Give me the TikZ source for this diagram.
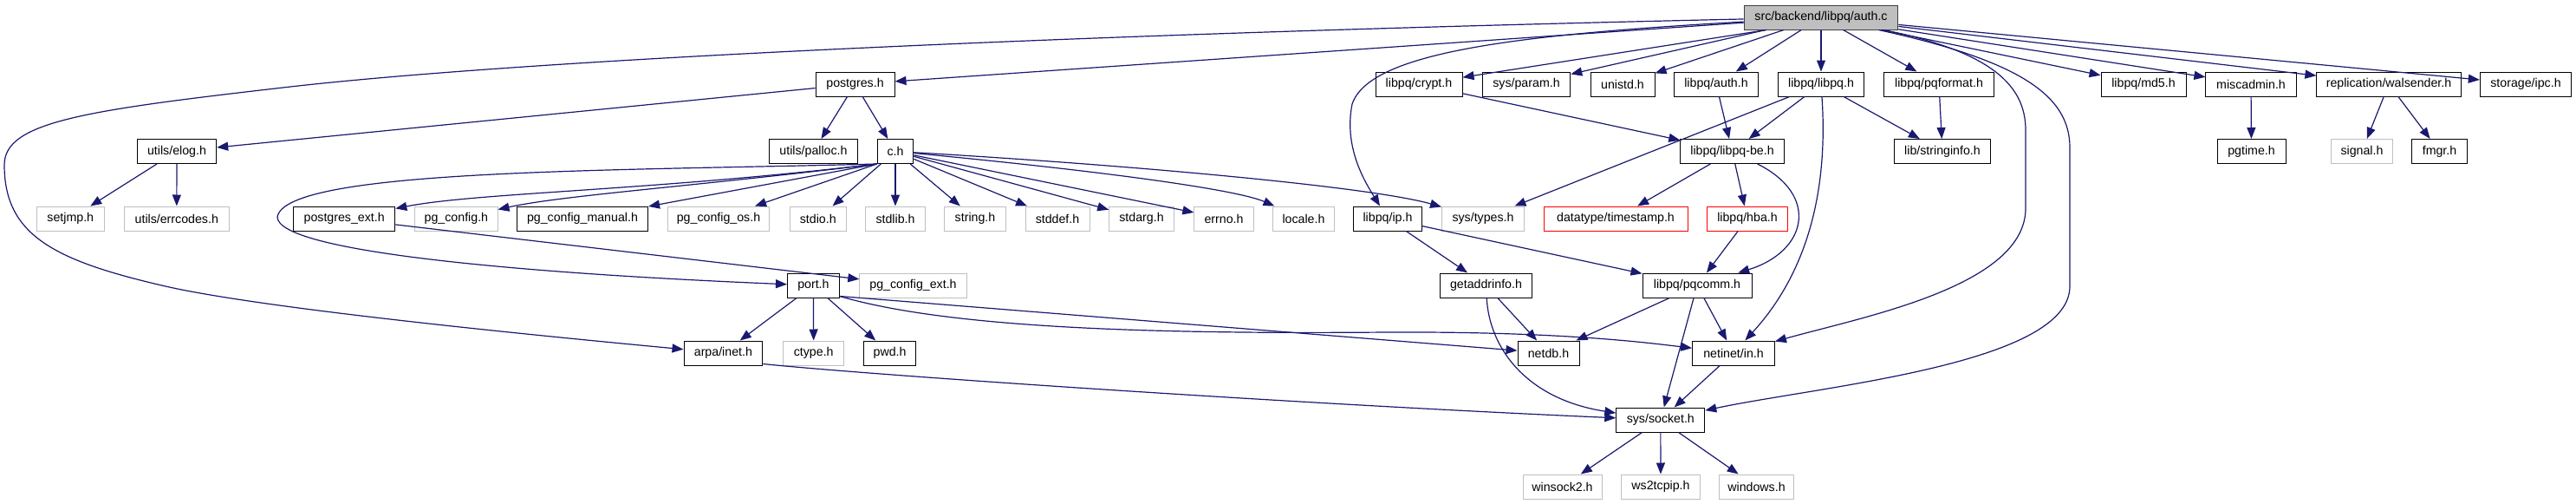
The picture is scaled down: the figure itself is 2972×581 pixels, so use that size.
\documentclass[tikz,border=0pt]{standalone}
\usepackage{fontspec}
\setmainfont{Liberation Sans}
\usetikzlibrary{arrows.meta}
\definecolor{midblue}{HTML}{191970}
\definecolor{greyline}{HTML}{BFBFBF}
\definecolor{greyfill}{HTML}{BFBFBF}
\definecolor{darkline}{HTML}{404040}
\definecolor{truncred}{HTML}{FF0000}
\tikzset{
  box/.style={draw=black, line width=1pt, fill=white, minimum height=28pt,
    inner xsep=8pt, inner ysep=0pt, font=\fontsize{14.2}{16}\selectfont, anchor=center},
  extbox/.style={box, draw=greyline},
  truncbox/.style={box, draw=truncred},
  rootbox/.style={box, draw=darkline, fill=greyfill},
  edge/.style={draw=midblue, line width=1.2pt, -{Triangle[length=13pt,width=10pt]}},
}
\begin{document}
\begin{tikzpicture}[x=1pt,y=-1pt]
\fill[white] (0,0) rectangle (2972,581);
\useasboundingbox (0,0) rectangle (2972,581);
% row 0
\node[rootbox, minimum width=177.6pt] (auth) at (2101,20) {src/backend/libpq/auth.c};
% row 1
\node[box, minimum width=91pt] (postgres) at (986.5,97) {postgres.h};
\node[box, minimum width=100pt] (crypt) at (1637,97) {libpq/crypt.h};
\node[box, minimum width=101.5pt] (param) at (1761,97) {sys/param.h};
\node[box, minimum width=74pt] (unistd) at (1872,97) {unistd.h};
\node[box, minimum width=97.6pt] (lauth) at (1980,97) {libpq/auth.h};
\node[box, minimum width=99.5pt] (libpq) at (2101,97) {libpq/libpq.h};
\node[box, minimum width=127.4pt] (pqformat) at (2237,97) {libpq/pqformat.h};
\node[box, minimum width=98pt] (md5) at (2473,97) {libpq/md5.h};
\node[box, minimum width=104.2pt] (misc) at (2597,97) {miscadmin.h};
\node[box, minimum width=166.2pt] (walsnd) at (2756,97) {replication/walsender.h};
\node[box, minimum width=105.4pt] (ipc) at (2914,97) {storage/ipc.h};
% row 2
\node[box, minimum width=91.4pt] (elog) at (204,174.5) {utils/elog.h};
\node[box, minimum width=102pt] (palloc) at (938.5,174.5) {utils/palloc.h};
\node[box, minimum width=41.7pt] (ch) at (1033,174.5) {c.h};
\node[box, minimum width=119.4pt] (libpqbe) at (1998.5,174.5) {libpq/libpq-be.h};
\node[box, minimum width=111.2pt] (strinfo) at (2241,174.5) {lib/stringinfo.h};
\node[box, minimum width=79pt] (pgtime) at (2597.5,174.5) {pgtime.h};
\node[extbox, minimum width=70.7pt] (signal) at (2725,174.5) {signal.h};
\node[box, minimum width=63.4pt] (fmgr) at (2814.5,174.5) {fmgr.h};
% row 3
\node[extbox, minimum width=78.4pt] (setjmp) at (81.3,252) {setjmp.h};
\node[extbox, minimum width=120.5pt] (errcodes) at (203.8,252) {utils/errcodes.h};
\node[box, minimum width=117.2pt] (pgext) at (397.2,252) {postgres\_ext.h};
\node[extbox, minimum width=95.2pt] (pgconf) at (526.4,252) {pg\_config.h};
\node[box, minimum width=151.2pt] (pgman) at (672,252) {pg\_config\_manual.h};
\node[extbox, minimum width=117.7pt] (pgos) at (829,252) {pg\_config\_os.h};
\node[extbox, minimum width=65.5pt] (stdio) at (943.8,252) {stdio.h};
\node[extbox, minimum width=68.3pt] (stdlib) at (1033,252) {stdlib.h};
\node[extbox, minimum width=70.8pt] (string) at (1125,252) {string.h};
\node[extbox, minimum width=74pt] (stddef) at (1220,252) {stddef.h};
\node[extbox, minimum width=74.6pt] (stdarg) at (1317,252) {stdarg.h};
\node[extbox, minimum width=68.2pt] (errno) at (1412,252) {errno.h};
\node[extbox, minimum width=70.9pt] (locale) at (1504,252) {locale.h};
\node[box, minimum width=78.6pt] (ip) at (1601,252) {libpq/ip.h};
\node[extbox, minimum width=94.9pt] (systypes) at (1711,252) {sys/types.h};
\node[truncbox, minimum width=166pt] (timestamp) at (1864,252) {datatype/timestamp.h};
\node[truncbox, minimum width=92.8pt] (hba) at (2016,252) {libpq/hba.h};
% row 4
\node[box, minimum width=59.8pt] (port) at (938.4,329) {port.h};
\node[extbox, minimum width=123.4pt] (pgcext) at (1053.5,329) {pg\_config\_ext.h};
\node[box, minimum width=106.7pt] (getaddr) at (1714.5,329) {getaddrinfo.h};
\node[box, minimum width=126pt] (pqcomm) at (1958,329) {libpq/pqcomm.h};
% row 5
\node[box, minimum width=90.8pt] (arpa) at (834.4,407) {arpa/inet.h};
\node[extbox, minimum width=69.8pt] (ctype) at (938.7,407) {ctype.h};
\node[box, minimum width=59.3pt] (pwd) at (1026.6,407) {pwd.h};
\node[box, minimum width=71pt] (netdb) at (1786.5,407) {netdb.h};
\node[box, minimum width=94.8pt] (netin) at (2000,407) {netinet/in.h};
% row 6
\node[box, minimum width=102pt] (socket) at (1915.8,484) {sys/socket.h};
% row 7
\node[extbox, minimum width=91pt] (winsock) at (1802.5,561) {winsock2.h};
\node[extbox, minimum width=90.2pt] (ws2) at (1916,561) {ws2tcpip.h};
\node[extbox, minimum width=86.9pt] (windows) at (2026.5,561) {windows.h};

% edges from auth.c
\draw[edge] (auth) -- (postgres);
\draw[edge] ([xshift=-63pt]auth.south) -- (crypt);
\draw[edge] (auth) -- (param);
\draw[edge] (auth) -- (unistd);
\draw[edge] (auth) -- (lauth);
\draw[edge] (auth) -- (libpq);
\draw[edge] (auth) -- (pqformat);
\draw[edge] (auth) -- (md5);
\draw[edge] (auth) -- (misc);
\draw[edge] (auth) -- (walsnd);
\draw[edge] (auth) -- (ipc);
\draw[edge] (auth) .. controls (1750,40) and (1580,60) .. (1560,120)
                   .. controls (1550,170) and (1575,210) .. (ip);
\draw[edge] (auth) .. controls (1200,40) and (600,70) .. (335,100)
                   .. controls (100,127) and (5,140) .. (5,190)
                   .. controls (5,270) and (60,300) .. (191,330)
                   .. controls (300,355) and (600,385) .. (arpa);
\draw[edge] (auth) .. controls (2300,60) and (2337,100) .. (2337,150) -- (2337,240)
                   .. controls (2337,330) and (2150,365) .. (netin);
\draw[edge] (auth) .. controls (2330,70) and (2388,110) .. (2388,170) -- (2388,330)
                   .. controls (2388,420) and (2100,445) .. (socket);
% postgres.h
\draw[edge] (postgres) -- (elog);
\draw[edge] (postgres) -- (palloc);
\draw[edge] (postgres) -- (ch);
\draw[edge] (elog) -- (setjmp);
\draw[edge] (elog) -- (errcodes);
% c.h
\draw[edge] (ch.south west) .. controls (750,220) and (550,222) .. (pgext);
\draw[edge] (ch.south west) .. controls (800,215) and (650,225) .. (pgconf);
\draw[edge] (ch.south west) -- (pgman);
\draw[edge] (ch.south west) -- (pgos);
\draw[edge] (ch) -- (stdio);
\draw[edge] (ch) -- (stdlib);
\draw[edge] (ch) -- (string);
\draw[edge] (ch) -- (stddef);
\draw[edge] (ch) -- (stdarg);
\draw[edge] (ch) -- (errno);
\draw[edge] (ch) .. controls (1300,200) and (1430,220) .. (locale);
\draw[edge] (ch) .. controls (1300,190) and (1580,215) .. (systypes);
\draw[edge] (ch.south west) .. controls (700,197) and (330,195) .. (320,250)
                   .. controls (320,290) and (600,315) .. (port);
\draw[edge] (pgext) -- (pgcext);
% libpq group
\draw[edge] (crypt) -- (libpqbe);
\draw[edge] (lauth) -- (libpqbe);
\draw[edge] (libpq) -- (libpqbe);
\draw[edge] (libpq) -- (strinfo);
\draw[edge] (libpq) -- (systypes);
\draw[edge] (libpq) .. controls (2110,230) and (2080,320) .. (netin);
\draw[edge] (pqformat) -- (strinfo);
\draw[edge] (misc) -- (pgtime);
\draw[edge] (walsnd) -- (signal);
\draw[edge] (walsnd) -- (fmgr);
\draw[edge] (libpqbe) -- (timestamp);
\draw[edge] (libpqbe) -- (hba);
\draw[edge] (libpqbe) .. controls (2100,225) and (2085,290) .. (pqcomm);
\draw[edge] (hba) -- (pqcomm);
\draw[edge] (ip) -- (getaddr);
\draw[edge] (ip) -- (pqcomm);
\draw[edge] (getaddr) -- (netdb);
\draw[edge] (getaddr) .. controls (1718,400) and (1760,460) .. (socket);
\draw[edge] (pqcomm) -- (netdb);
\draw[edge] (pqcomm) -- (socket);
\draw[edge] (pqcomm) -- (netin);
\draw[edge] (netin) -- (socket);
% port.h
\draw[edge] (port) -- (arpa);
\draw[edge] (port) -- (ctype);
\draw[edge] (port) -- (pwd);
\draw[edge] ([yshift=2pt]port.south east) -- (netdb);
\draw[edge] ([yshift=2pt]port.south east) .. controls (1100,380) and (1350,385) .. (1600,383)
                   .. controls (1800,382) and (1900,395) .. (netin);
\draw[edge] ([yshift=2pt]arpa.south east) .. controls (1000,432) and (1500,466) .. (socket);
% sys/socket.h
\draw[edge] (socket) -- (winsock);
\draw[edge] (socket) -- (ws2);
\draw[edge] (socket) -- (windows);
\end{tikzpicture}
\end{document}
